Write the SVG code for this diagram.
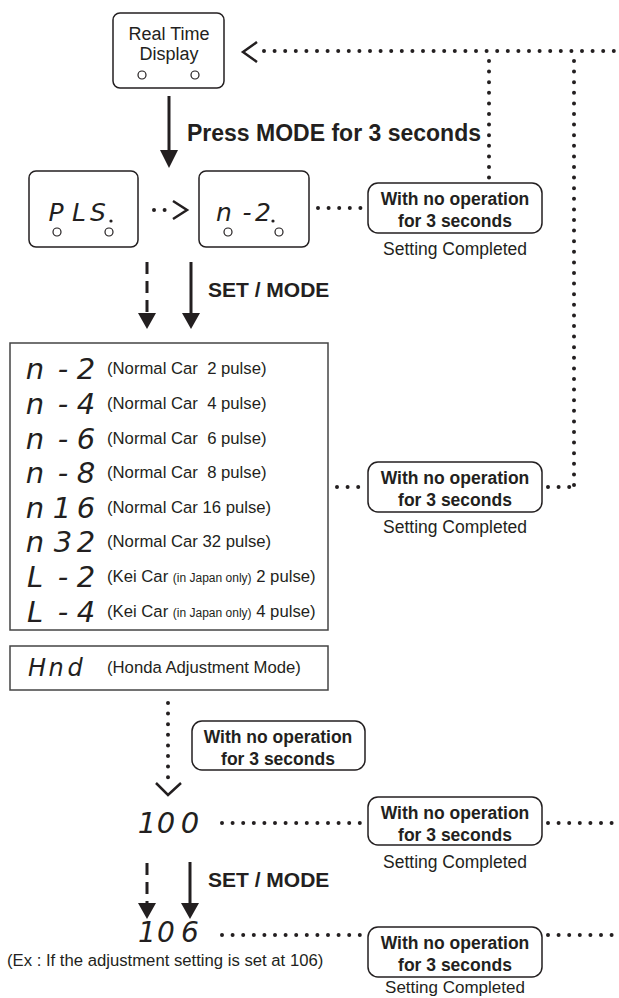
<svg xmlns="http://www.w3.org/2000/svg" width="619" height="998" viewBox="0 0 619 998">
<style>
.t{font-family:"Liberation Sans",Arial,sans-serif;fill:#231f20}
.b{font-weight:bold}
.c{text-anchor:middle}
.pre{white-space:pre}
.seg{font-family:"DejaVu Sans",sans-serif;font-style:oblique;fill:#231f20;text-anchor:middle}
.box{fill:#fff;stroke:#231f20;stroke-width:1.5}
.lbox{fill:#fff;stroke:#444;stroke-width:1.5}
.dot{stroke:#231f20;stroke-width:4;stroke-linecap:round;stroke-dasharray:0 10.6;fill:none}
.arr{stroke:#231f20;stroke-width:3;fill:none}
.dash{stroke-dasharray:12 7}
.head{fill:#231f20}
.chev{fill:none;stroke:#231f20;stroke-width:2.5}
.led{fill:#fff;stroke:#231f20;stroke-width:1.2}
</style>

<g id="connectors">
  <polyline class="chev" points="257,42 243,52 257,62"/>
  <line class="dot" x1="264" y1="51" x2="617" y2="51"/>
  <line class="dot" x1="489" y1="61" x2="489" y2="178"/>
  <line class="dot" x1="574" y1="61" x2="574" y2="487"/>
  <line class="arr" x1="169" y1="96" x2="169" y2="152"/>
  <polygon class="head" points="160,150 178,150 169,168"/>
  <line class="dot" x1="154" y1="210" x2="170" y2="210"/>
  <polyline class="chev" points="173,201 187,210 173,219"/>
  <line class="dot" x1="318" y1="208" x2="362" y2="208"/>
  <line class="arr dash" x1="147" y1="262" x2="147" y2="315"/>
  <polygon class="head" points="138,313 156,313 147,329"/>
  <line class="arr" x1="191" y1="262" x2="191" y2="315"/>
  <polygon class="head" points="182,313 200,313 191,329"/>
  <line class="dot" x1="337" y1="487" x2="362" y2="487"/>
  <line class="dot" x1="548" y1="487" x2="574" y2="487"/>
  <line class="dot" x1="168" y1="703" x2="168" y2="782"/>
  <polyline class="chev" points="156,783 168,795 181,783"/>
  <line class="dot" x1="222" y1="823" x2="362" y2="823"/>
  <line class="dot" x1="548" y1="823" x2="617" y2="823"/>
  <line class="arr dash" x1="147" y1="863" x2="147" y2="905"/>
  <polygon class="head" points="138,903 156,903 147,919"/>
  <line class="arr" x1="190" y1="862" x2="190" y2="905"/>
  <polygon class="head" points="181,903 199,903 190,919"/>
  <line class="dot" x1="222" y1="935" x2="362" y2="935"/>
  <line class="dot" x1="548" y1="935" x2="617" y2="935"/>
</g>

<g id="rtd">
  <rect class="box" x="113" y="13" width="111" height="75" rx="7"/>
  <text class="t c" x="169" y="40" font-size="18">Real Time</text>
  <text class="t c" x="169" y="60" font-size="18">Display</text>
  <circle class="led" cx="142" cy="75" r="4"/>
  <circle class="led" cx="195" cy="75" r="4"/>
</g>

<g id="press-label">
  <text class="t b" x="187" y="141" font-size="23">Press MODE for 3 seconds</text>
</g>

<g id="pls">
  <rect class="box" x="29" y="171" width="109" height="76" rx="7"/>
  <text class="seg" font-size="25"><tspan x="56" y="221">P</tspan><tspan x="79" y="221">L</tspan><tspan x="98" y="221">S</tspan></text>
  <circle cx="111" cy="221" r="1.6" fill="#231f20"/>
  <circle class="led" cx="57" cy="232" r="4"/>
  <circle class="led" cx="109" cy="232" r="4"/>
</g>

<g id="n2">
  <rect class="box" x="199" y="171" width="110" height="76" rx="7"/>
  <text class="seg" font-size="25"><tspan x="224" y="221">n</tspan><tspan x="247" y="221">-</tspan><tspan x="263" y="221">2</tspan></text>
  <circle cx="273" cy="221" r="1.6" fill="#231f20"/>
  <circle class="led" cx="228" cy="232" r="4"/>
  <circle class="led" cx="279" cy="232" r="4"/>
</g>

<g id="timeout1">
  <rect class="box" x="368" y="183" width="174" height="50" rx="10"/>
  <text class="t b c" x="455" y="205" font-size="17.5">With no operation</text>
  <text class="t b c" x="455" y="227" font-size="17.5">for 3 seconds</text>
  <text class="t c" x="455" y="255" font-size="17.5">Setting Completed</text>
</g>

<g id="setmode1">
  <text class="t b" x="208" y="297" font-size="21">SET / MODE</text>
</g>

<g id="pulse-list">
  <rect class="lbox" x="10" y="343" width="318" height="287"/>
  <g class="seg" font-size="29">
    <text x="35" y="379">n</text><text x="63" y="379">-</text><text x="86" y="379">2</text>
    <text x="35" y="414">n</text><text x="63" y="414">-</text><text x="86" y="414">4</text>
    <text x="35" y="449">n</text><text x="63" y="449">-</text><text x="86" y="449">6</text>
    <text x="35" y="483">n</text><text x="63" y="483">-</text><text x="86" y="483">8</text>
    <text x="35" y="518">n</text><text x="62" y="518">1</text><text x="86" y="518">6</text>
    <text x="35" y="552">n</text><text x="63" y="552">3</text><text x="86" y="552">2</text>
    <text x="35" y="587">L</text><text x="63" y="587">-</text><text x="86" y="587">2</text>
    <text x="35" y="622">L</text><text x="63" y="622">-</text><text x="86" y="622">4</text>
  </g>
  <g class="t pre" font-size="16.7">
    <text class="pre" x="107" y="374">(Normal Car  2 pulse)</text>
    <text class="pre" x="107" y="409">(Normal Car  4 pulse)</text>
    <text class="pre" x="107" y="444">(Normal Car  6 pulse)</text>
    <text class="pre" x="107" y="478">(Normal Car  8 pulse)</text>
    <text x="107" y="513">(Normal Car 16 pulse)</text>
    <text x="107" y="547">(Normal Car 32 pulse)</text>
    <text x="107" y="582">(Kei Car <tspan font-size="12">(in Japan only)</tspan> 2 pulse)</text>
    <text x="107" y="617">(Kei Car <tspan font-size="12">(in Japan only)</tspan> 4 pulse)</text>
  </g>
</g>

<g id="hnd">
  <rect class="lbox" x="10" y="646" width="318" height="44"/>
  <text class="seg" font-size="24"><tspan x="37" y="676">H</tspan><tspan x="56" y="676">n</tspan><tspan x="75" y="676">d</tspan></text>
  <text class="t" x="107" y="673" font-size="16.7">(Honda Adjustment Mode)</text>
</g>

<g id="timeout2">
  <rect class="box" x="368" y="462" width="174" height="50" rx="10"/>
  <text class="t b c" x="455" y="484" font-size="17.5">With no operation</text>
  <text class="t b c" x="455" y="506" font-size="17.5">for 3 seconds</text>
  <text class="t c" x="455" y="533" font-size="17.5">Setting Completed</text>
</g>

<g id="timeout3">
  <rect class="box" x="192" y="721" width="173" height="49" rx="10"/>
  <text class="t b c" x="278" y="743" font-size="17.5">With no operation</text>
  <text class="t b c" x="278" y="765" font-size="17.5">for 3 seconds</text>
</g>

<g id="d100">
  <text class="seg" font-size="29"><tspan x="147" y="833">1</tspan><tspan x="166" y="833">0</tspan><tspan x="190" y="833">0</tspan></text>
</g>

<g id="timeout4">
  <rect class="box" x="368" y="797" width="174" height="48" rx="10"/>
  <text class="t b c" x="455" y="819" font-size="17.5">With no operation</text>
  <text class="t b c" x="455" y="841" font-size="17.5">for 3 seconds</text>
  <text class="t c" x="455" y="868" font-size="17.5">Setting Completed</text>
</g>

<g id="setmode2">
  <text class="t b" x="208" y="887" font-size="21">SET / MODE</text>
</g>

<g id="d106">
  <text class="seg" font-size="28"><tspan x="147" y="942">1</tspan><tspan x="166" y="942">0</tspan><tspan x="190" y="942">6</tspan></text>
  <text class="t" x="7" y="966" font-size="16.7">(Ex : If the adjustment setting is set at 106)</text>
</g>

<g id="timeout5">
  <rect class="box" x="368" y="927" width="174" height="50" rx="10"/>
  <text class="t b c" x="455" y="949" font-size="17.5">With no operation</text>
  <text class="t b c" x="455" y="971" font-size="17.5">for 3 seconds</text>
  <text class="t c" x="455" y="993" font-size="17">Setting Completed</text>
</g>
</svg>
